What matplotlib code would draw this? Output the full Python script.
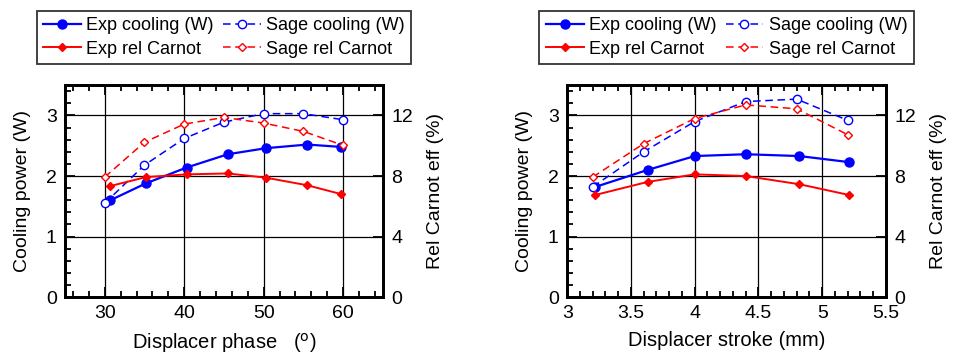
import matplotlib.pyplot as plt
from matplotlib.ticker import MultipleLocator, FormatStrFormatter

plt.rcParams['font.family'] = ['Liberation Sans', 'DejaVu Sans']

# displacer phase sweep
phase_exp = [30.7, 35.2, 40.3, 45.5, 50.3, 55.5, 59.8]
phase_sage = [30, 35, 40, 45, 50, 55, 60]
phase_exp_cool = [1.60, 1.88, 2.14, 2.36, 2.46, 2.52, 2.48]
phase_exp_carnot = [7.34, 7.93, 8.11, 8.17, 7.89, 7.39, 6.80]
phase_sage_cool = [1.55, 2.18, 2.62, 2.89, 3.03, 3.03, 2.93]
phase_sage_carnot = [7.93, 10.23, 11.43, 11.87, 11.5, 10.95, 10.03]

# displacer stroke sweep
stroke_exp = [3.22, 3.63, 4.0, 4.40, 4.82, 5.21]
stroke_sage = [3.2, 3.6, 4.0, 4.4, 4.8, 5.2]
stroke_exp_cool = [1.82, 2.10, 2.33, 2.36, 2.33, 2.23]
stroke_exp_carnot = [6.75, 7.61, 8.11, 8.0, 7.46, 6.75]
stroke_sage_cool = [1.82, 2.40, 2.90, 3.23, 3.27, 2.92]
stroke_sage_carnot = [7.93, 10.14, 11.8, 12.7, 12.44, 10.73]


def draw_panel(ax, xe, xs, ec, ecar, sc, scar, xlim, xmaj, xmin, xlabel):
    ax2 = ax.twinx()
    h1, = ax.plot(xe, ec, '-o', color='blue', lw=1.6, ms=6.5, label='Exp cooling (W)')
    h2, = ax.plot(xs, sc, '--o', color='blue', lw=1.1, ms=6, mfc='white',
                  mew=1.0, dashes=(5, 3), label='Sage cooling (W)')
    h3, = ax2.plot(xe, ecar, '-D', color='red', lw=1.4, ms=4.5, label='Exp rel Carnot')
    h4, = ax2.plot(xs, scar, '--D', color='red', lw=1.1, ms=4, mfc='white',
                   mew=1.0, dashes=(5, 3), label='Sage rel Carnot')

    ax.set_xlim(*xlim)
    ax.set_ylim(0, 3.5)
    ax2.set_ylim(0, 14)
    ax.xaxis.set_major_locator(MultipleLocator(xmaj))
    ax.xaxis.set_minor_locator(MultipleLocator(xmin))
    ax.xaxis.set_major_formatter(FormatStrFormatter('%g'))
    ax.yaxis.set_major_locator(MultipleLocator(1))
    ax.yaxis.set_minor_locator(MultipleLocator(0.2))
    ax2.yaxis.set_major_locator(MultipleLocator(4))
    ax.grid(True, which='major', color='black', lw=0.9)

    ax.tick_params(which='both', direction='in', top=True, right=False,
                   labelsize=14, width=1.3, pad=6)
    ax.tick_params(which='major', length=7)
    ax.tick_params(which='minor', length=4)
    ax2.tick_params(which='both', direction='in', labelsize=14, width=1.3, length=7, pad=6)
    for a in (ax, ax2):
        for s in a.spines.values():
            s.set_linewidth(2)

    ax.set_ylabel('Cooling power (W)', fontsize=14, labelpad=11)
    ax2.set_ylabel('Rel Carnot eff (%)', fontsize=14, labelpad=10)
    ax.set_xlabel(xlabel, fontsize=14.5, labelpad=6)

    leg = ax.legend([h1, h3, h2, h4], [h.get_label() for h in (h1, h3, h2, h4)],
                    ncol=2, loc='lower center', bbox_to_anchor=(0.5, 1.1),
                    borderaxespad=0, fontsize=13, frameon=True, fancybox=False,
                    edgecolor='black', handlelength=2.1, handletextpad=0.3,
                    columnspacing=0.5, labelspacing=0.35, borderpad=0.35)
    leg.get_frame().set_linewidth(1.3)


fig = plt.figure(figsize=(9.63, 3.58), dpi=100)
ax_l = fig.add_axes([0.0675, 0.170, 0.330, 0.592])
ax_r = fig.add_axes([0.589, 0.170, 0.331, 0.592])

draw_panel(ax_l, phase_exp, phase_sage, phase_exp_cool, phase_exp_carnot,
           phase_sage_cool, phase_sage_carnot, (25, 65), 10, 2,
           r'Displacer phase   ($^{\rm o}$)')
draw_panel(ax_r, stroke_exp, stroke_sage, stroke_exp_cool, stroke_exp_carnot,
           stroke_sage_cool, stroke_sage_carnot, (3, 5.5), 0.5, 0.1,
           'Displacer stroke (mm)')

fig.savefig('out.png', dpi=100)
